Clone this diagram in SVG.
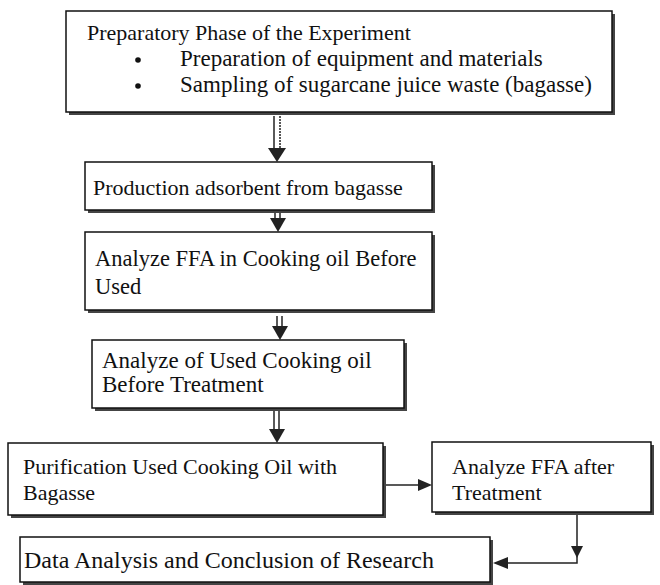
<svg xmlns="http://www.w3.org/2000/svg" width="660" height="585" viewBox="0 0 660 585">
<defs>
<style>
.box{fill:#fff;stroke:#111;stroke-width:1.5}
.sh{fill:#444}
.t{font-family:"Liberation Serif","Times New Roman",serif;font-size:22px;fill:#111}
.ln{stroke:#222;stroke-width:1.5;fill:none}
.head{fill:#222}
</style>
</defs>
<g id="connectors">
<g id="a1"><line class="ln" x1="274" y1="116" x2="274" y2="150"/><line class="ln" x1="280" y1="116" x2="280" y2="150" stroke-dasharray="2 1"/><polygon class="head" points="268,148 286,148 277,162"/></g>
<g id="a2"><line class="ln" x1="275" y1="213" x2="275" y2="220"/><line class="ln" x1="280" y1="213" x2="280" y2="220"/><polygon class="head" points="270,218 286,218 278,232"/></g>
<g id="a3"><line class="ln" x1="277" y1="316" x2="277" y2="328"/><line class="ln" x1="282" y1="316" x2="282" y2="328"/><polygon class="head" points="272,326 288,326 280,340"/></g>
<g id="a4"><line class="ln" x1="274" y1="411" x2="274" y2="431"/><line class="ln" x1="279" y1="411" x2="279" y2="431"/><polygon class="head" points="269,429 285,429 277,443"/></g>
<g id="a5"><line class="ln" x1="386" y1="485" x2="420" y2="485"/><polygon class="head" points="418,479 418,491 432,485"/></g>
<g id="a6"><polyline class="ln" points="577,515 577,563 496,563"/><polygon class="head" points="571,546 583,546 577,558"/><polygon class="head" points="508,557 508,569 493,563"/></g>
</g>
<g id="n1"><rect class="sh" x="69" y="14" width="546" height="101"/><rect class="box" x="66" y="11" width="546" height="101"/>
<text class="t" x="87" y="40">Preparatory Phase of the Experiment</text>
<circle cx="138" cy="60" r="2.8" fill="#111"/><text class="t" x="180" y="66" style="font-size:23px">Preparation of equipment and materials</text>
<circle cx="138" cy="86" r="2.8" fill="#111"/><text class="t" x="180" y="92" style="font-size:23px">Sampling of sugarcane juice waste (bagasse)</text></g>
<g id="n2"><rect class="sh" x="88" y="165" width="347" height="48"/><rect class="box" x="85" y="162" width="347" height="48"/><text class="t" x="93" y="195">Production adsorbent from bagasse</text></g>
<g id="n3"><rect class="sh" x="88" y="235" width="347" height="78"/><rect class="box" x="85" y="232" width="347" height="78"/><text class="t" x="95" y="266" style="font-size:22.5px">Analyze FFA in Cooking oil Before</text><text class="t" x="95" y="294" style="font-size:22.5px">Used</text></g>
<g id="n4"><rect class="sh" x="95" y="343" width="312" height="68"/><rect class="box" x="92" y="340" width="312" height="68"/><text class="t" x="102" y="368" style="font-size:23px">Analyze of Used Cooking oil</text><text class="t" x="102" y="392" style="font-size:23px">Before Treatment</text></g>
<g id="n5"><rect class="sh" x="11" y="446" width="375" height="72"/><rect class="box" x="8" y="443" width="375" height="72"/><text class="t" x="23" y="474">Purification Used Cooking Oil with</text><text class="t" x="23" y="500">Bagasse</text></g>
<g id="n6"><rect class="sh" x="435" y="445" width="219" height="70"/><rect class="box" x="432" y="442" width="219" height="70"/><text class="t" x="452" y="474">Analyze FFA after</text><text class="t" x="452" y="500">Treatment</text></g>
<g id="n7"><rect class="sh" x="23" y="540" width="470" height="45"/><rect class="box" x="20" y="537" width="470" height="45"/><text class="t" x="24" y="568" style="font-size:24px">Data Analysis and Conclusion of Research</text></g>
</svg>
